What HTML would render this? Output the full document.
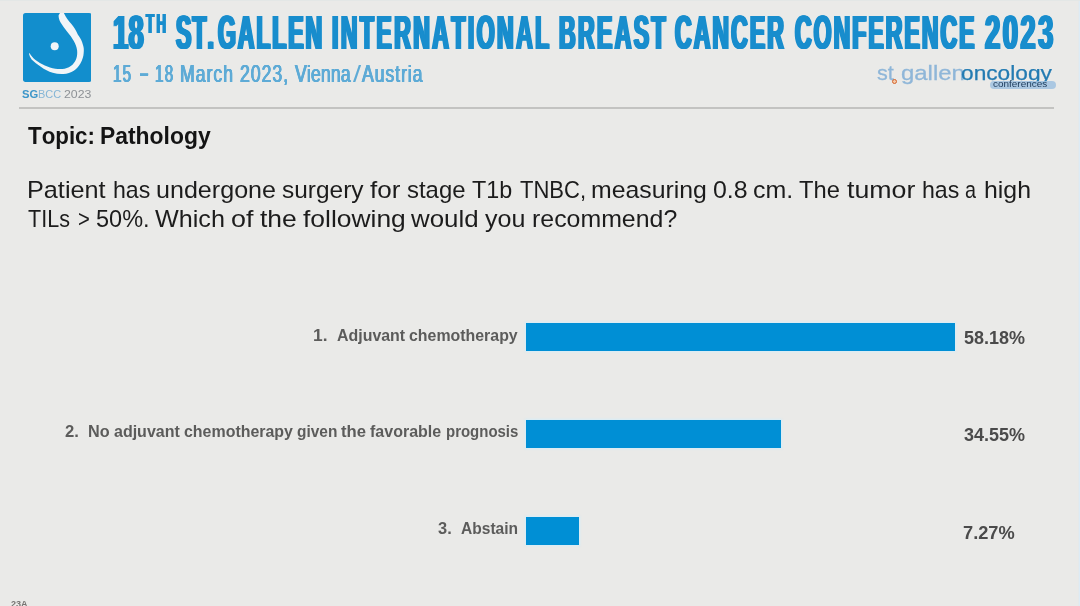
<!DOCTYPE html>
<html lang="en">
<head>
<meta charset="utf-8">
<title>18th St.Gallen International Breast Cancer Conference 2023</title>
<style>
  html,body{margin:0;padding:0;background:#eaeae8;}
  body{width:1080px;height:606px;overflow:hidden;background:#eaeae8;position:relative;
       font-family:"Liberation Sans",sans-serif;font-kerning:none;}
  #stage{position:absolute;left:0;top:0;width:1080px;height:606px;overflow:hidden;filter:blur(0.7px);}
  h1,h2,p{margin:0;font-size:inherit;font-weight:inherit;}
  .t{position:absolute;white-space:nowrap;transform-origin:0 0;line-height:1;display:block;}
  .ti{font-weight:bold;color:#188dcd;}
  .su{color:#5eabd6;}
  .sg1{font-weight:bold;color:#3c96c9;}
  .sg2{color:#86b6d6;}
  .sg3{color:#8e9296;}
  .tp{font-weight:bold;color:#141414;}
  .pa{color:#1c1c1c;}
  .lb{font-weight:bold;color:#5c5c5b;}
  .pc{font-weight:bold;color:#4b4b4b;}
  .o1{color:#8fb6d8;}
  .o2{color:#237bb2;}
  .o3{color:#1c3a5a;}
  .bar{position:absolute;left:525.6px;height:28.4px;background:#008fd5;box-shadow:0 0 2px 1px rgba(205,238,252,.75);}
  #logo{position:absolute;left:22.6px;top:13px;width:68.8px;height:68.9px;}
  #rule{position:absolute;left:18.5px;top:106.9px;width:1035.3px;height:2.1px;background:#c3c3c1;}
  #pill{position:absolute;left:989.6px;top:81px;width:66.2px;height:7.8px;border-radius:4px;background:rgba(160,194,224,.85);}
  #ring{position:absolute;left:891.6px;top:78.8px;width:3.2px;height:3.2px;border:1.4px solid #d4622a;border-radius:50%;background:#f3c9a8;}
  #edgeR{position:absolute;left:1078px;top:0;width:2px;height:606px;background:linear-gradient(90deg,#e5e9ea 0,#e5e9ea 40%,#ddebf5 40%);}
  #edgeT{position:absolute;left:0;top:0;width:1080px;height:1px;background:#e3e7e6;}
  .n23{font-weight:bold;color:#777573;}
</style>
</head>
<body>
<div id="stage">
<svg id="logo" viewBox="0 0 68.8 68.9">
  <rect x="0" y="0" width="68.8" height="68.9" rx="2.6" fill="#128ecd"/>
  <path d="M37 0 L40.9 0 C43 5 45.5 7.5 48.2 10.8 C51 14 53 17.5 54.8 21.4 C57.5 25 59.3 28.5 60 32 C60.9 34.5 61 37 60.7 39.9 C60.5 43.5 59.3 47 57.4 50.4 C55.8 53.3 53.6 55.8 50.8 57.7 C47.8 59.6 44.3 60.7 40.3 61 C36.7 61.2 33.2 60.8 29.7 59.7 C25.5 58.4 21.5 56.4 17.8 53.7 C14.3 51.3 11.3 49 8.6 46.5 C7.2 44.6 6.3 42.6 5.9 40.5 L6.6 40.3 C8 42.8 10 45 12.5 47.1 C15.3 49.2 18.4 51 21.8 52.4 C25.2 54 28.7 55.1 32.3 55.7 C35.5 56.2 38.6 56.2 41.6 55.7 C44.7 55 47.3 53.6 49.5 51.7 C51.5 49.8 52.8 47.6 53.5 45.1 C54.2 42.6 54.4 40 54.1 37.2 C53.6 34 52.5 31 50.8 28 C49 24.8 46.8 21.7 44.2 18.7 C41.6 15.6 39.4 12.6 37.6 9.5 C36.2 7 35.5 4.6 35.6 2.2 Z" fill="#f1f5f8"/>
  <circle cx="31.7" cy="33.3" r="4" fill="#f1f5f8"/>
</svg>
<h1 id="title">
<span class="t ti" style="left:113.37px;top:7.83px;font-size:48.98px;transform:scaleX(0.5600);text-shadow:2.14px 0 0 currentColor,-2.14px 0 0 currentColor,1.07px 0 0 currentColor,-1.07px 0 0 currentColor;letter-spacing:0.47px;">18</span><span class="t ti" style="left:146.45px;top:10.56px;font-size:26.74px;transform:scaleX(0.5000);text-shadow:1.40px 0 0 currentColor,-1.40px 0 0 currentColor,0.70px 0 0 currentColor,-0.70px 0 0 currentColor;letter-spacing:4.45px;">TH</span>
<span class="t ti" style="left:175.84px;top:7.83px;font-size:48.98px;transform:scaleX(0.4700);text-shadow:2.55px 0 0 currentColor,-2.55px 0 0 currentColor,1.28px 0 0 currentColor,-1.28px 0 0 currentColor;letter-spacing:2.27px;">ST.</span><span class="t ti" style="left:218.06px;top:7.83px;font-size:48.98px;transform:scaleX(0.4700);text-shadow:2.55px 0 0 currentColor,-2.55px 0 0 currentColor,1.28px 0 0 currentColor,-1.28px 0 0 currentColor;letter-spacing:4.07px;">GALLEN</span>
<span class="t ti" style="left:332.26px;top:7.83px;font-size:48.98px;transform:scaleX(0.4700);text-shadow:2.55px 0 0 currentColor,-2.55px 0 0 currentColor,1.28px 0 0 currentColor,-1.28px 0 0 currentColor;letter-spacing:5.19px;">INTERNATIONAL</span>
<span class="t ti" style="left:559.16px;top:7.83px;font-size:48.98px;transform:scaleX(0.4700);text-shadow:2.55px 0 0 currentColor,-2.55px 0 0 currentColor,1.28px 0 0 currentColor,-1.28px 0 0 currentColor;letter-spacing:5.08px;">BREAST</span>
<span class="t ti" style="left:675.36px;top:7.83px;font-size:48.98px;transform:scaleX(0.4700);text-shadow:2.55px 0 0 currentColor,-2.55px 0 0 currentColor,1.28px 0 0 currentColor,-1.28px 0 0 currentColor;letter-spacing:4.44px;">CANCER</span>
<span class="t ti" style="left:794.86px;top:7.83px;font-size:48.98px;transform:scaleX(0.4700);text-shadow:2.55px 0 0 currentColor,-2.55px 0 0 currentColor,1.28px 0 0 currentColor,-1.28px 0 0 currentColor;letter-spacing:4.35px;">CONFERENCE</span>
<span class="t ti" style="left:985.15px;top:7.83px;font-size:48.98px;transform:scaleX(0.5600);text-shadow:2.14px 0 0 currentColor,-2.14px 0 0 currentColor,1.07px 0 0 currentColor,-1.07px 0 0 currentColor;letter-spacing:4.36px;">2023</span>
</h1>
<div id="sub">
<span class="t su" style="left:113.41px;top:62.61px;font-size:23.26px;transform:scaleX(0.6600);text-shadow:0.58px 0 0 currentColor,-0.58px 0 0 currentColor,0.29px 0 0 currentColor,-0.29px 0 0 currentColor;letter-spacing:1.49px;">15</span>
<span class="t su" style="left:140.40px;top:61.11px;font-size:23.26px;transform:scaleX(0.6268);text-shadow:0 0.5px 0 currentColor,0 -0.3px 0 currentColor;">–</span>
<span class="t su" style="left:154.81px;top:62.61px;font-size:23.26px;transform:scaleX(0.6600);text-shadow:0.58px 0 0 currentColor,-0.58px 0 0 currentColor,0.29px 0 0 currentColor,-0.29px 0 0 currentColor;letter-spacing:1.82px;">18</span>
<span class="t su" style="left:180.13px;top:62.61px;font-size:23.26px;transform:scaleX(0.7600);text-shadow:0.50px 0 0 currentColor,-0.50px 0 0 currentColor,0.25px 0 0 currentColor,-0.25px 0 0 currentColor;letter-spacing:1.29px;">March</span>
<span class="t su" style="left:240.29px;top:62.61px;font-size:23.26px;transform:scaleX(0.7600);text-shadow:0.50px 0 0 currentColor,-0.50px 0 0 currentColor,0.25px 0 0 currentColor,-0.25px 0 0 currentColor;letter-spacing:1.28px;">2023,</span>
<span class="t su" style="left:294.60px;top:62.61px;font-size:23.26px;transform:scaleX(0.7600);text-shadow:0.50px 0 0 currentColor,-0.50px 0 0 currentColor,0.25px 0 0 currentColor,-0.25px 0 0 currentColor;letter-spacing:0.15px;">Vienna</span><span class="t su" style="left:353.20px;top:62.61px;font-size:23.26px;transform:scaleX(1.2536);">/</span><span class="t su" style="left:362.25px;top:62.61px;font-size:23.26px;transform:scaleX(0.7600);text-shadow:0.50px 0 0 currentColor,-0.50px 0 0 currentColor,0.25px 0 0 currentColor,-0.25px 0 0 currentColor;letter-spacing:1.20px;">Austria</span>
</div>
<div id="sgbcc">
<span class="t sg1" style="left:22.38px;top:89.18px;font-size:11.48px;transform:scaleX(0.9777);">SG</span><span class="t sg2" style="left:38.00px;top:89.18px;font-size:11.48px;transform:scaleX(0.9578);">BCC</span>
<span class="t sg3" style="left:64.38px;top:89.18px;font-size:11.48px;transform:scaleX(1.0710);">2023</span>
</div>
<h2 id="topic">
<span class="t tp" style="left:28.05px;top:124.02px;font-size:23.84px;transform:scaleX(0.9363);">Topic:</span>
<span class="t tp" style="left:100.46px;top:124.02px;font-size:23.84px;transform:scaleX(0.9605);">Pathology</span>
</h2>
<p id="para">
<span class="t pa" style="left:27.43px;top:178.02px;font-size:23.84px;transform:scaleX(1.0591);">Patient</span>
<span class="t pa" style="left:112.70px;top:178.02px;font-size:23.84px;transform:scaleX(0.9708);">has</span>
<span class="t pa" style="left:156.20px;top:178.02px;font-size:23.84px;transform:scaleX(1.0530);">undergone</span>
<span class="t pa" style="left:282.44px;top:178.02px;font-size:23.84px;transform:scaleX(1.0256);">surgery</span>
<span class="t pa" style="left:369.83px;top:178.02px;font-size:23.84px;transform:scaleX(1.0929);">for</span>
<span class="t pa" style="left:407.13px;top:178.02px;font-size:23.84px;transform:scaleX(1.0037);">stage</span>
<span class="t pa" style="left:472.08px;top:178.02px;font-size:23.84px;transform:scaleX(0.9788);">T1b</span>
<span class="t pa" style="left:519.71px;top:178.02px;font-size:23.84px;transform:scaleX(0.9240);">TNBC,</span>
<span class="t pa" style="left:590.95px;top:178.02px;font-size:23.84px;transform:scaleX(1.0418);">measuring</span>
<span class="t pa" style="left:712.63px;top:178.02px;font-size:23.84px;transform:scaleX(1.0459);">0.8</span>
<span class="t pa" style="left:753.34px;top:178.02px;font-size:23.84px;transform:scaleX(1.0480);">cm.</span>
<span class="t pa" style="left:798.97px;top:178.02px;font-size:23.84px;transform:scaleX(0.9954);">The</span>
<span class="t pa" style="left:846.50px;top:178.02px;font-size:23.84px;transform:scaleX(1.1217);">tumor</span>
<span class="t pa" style="left:921.58px;top:178.02px;font-size:23.84px;transform:scaleX(0.9708);">has</span>
<span class="t pa" style="left:965.33px;top:178.02px;font-size:23.84px;transform:scaleX(0.8298);">a</span>
<span class="t pa" style="left:984.25px;top:178.02px;font-size:23.84px;transform:scaleX(1.0444);">high</span>
<span class="t pa" style="left:28.02px;top:207.02px;font-size:23.84px;transform:scaleX(0.9046);">TILs</span>
<span class="t pa" style="left:77.58px;top:207.02px;font-size:23.84px;transform:scaleX(0.8498);">&gt;</span>
<span class="t pa" style="left:96.04px;top:207.02px;font-size:23.84px;transform:scaleX(0.9863);">50%.</span>
<span class="t pa" style="left:155.43px;top:207.02px;font-size:23.84px;transform:scaleX(1.0568);">Which</span>
<span class="t pa" style="left:231.40px;top:207.02px;font-size:23.84px;transform:scaleX(1.1272);">of</span>
<span class="t pa" style="left:260.19px;top:207.02px;font-size:23.84px;transform:scaleX(1.1118);">the</span>
<span class="t pa" style="left:302.88px;top:207.02px;font-size:23.84px;transform:scaleX(1.1089);">following</span>
<span class="t pa" style="left:410.93px;top:207.02px;font-size:23.84px;transform:scaleX(1.0855);">would</span>
<span class="t pa" style="left:484.96px;top:207.02px;font-size:23.84px;transform:scaleX(1.0513);">you</span>
<span class="t pa" style="left:531.73px;top:207.02px;font-size:23.84px;transform:scaleX(1.0444);">recommend?</span>
</p>
<div class="row">
<span class="t lb" style="left:312.71px;top:327.14px;font-size:16.13px;transform:scaleX(1.0770);">1.</span>
<span class="t lb" style="left:336.60px;top:327.14px;font-size:16.13px;transform:scaleX(0.9887);">Adjuvant</span>
<span class="t lb" style="left:408.83px;top:327.14px;font-size:16.13px;transform:scaleX(0.9871);">chemotherapy</span>
</div>
<div class="row">
<span class="t lb" style="left:65.02px;top:423.34px;font-size:16.13px;transform:scaleX(1.0352);">2.</span>
<span class="t lb" style="left:88.21px;top:423.34px;font-size:16.13px;transform:scaleX(1.0061);">No</span>
<span class="t lb" style="left:114.00px;top:423.34px;font-size:16.13px;transform:scaleX(0.9929);">adjuvant</span>
<span class="t lb" style="left:183.87px;top:423.34px;font-size:16.13px;transform:scaleX(0.9897);">chemotherapy</span>
<span class="t lb" style="left:296.87px;top:423.34px;font-size:16.13px;transform:scaleX(0.9596);">given</span>
<span class="t lb" style="left:341.32px;top:423.34px;font-size:16.13px;transform:scaleX(1.0341);">the</span>
<span class="t lb" style="left:370.29px;top:423.34px;font-size:16.13px;transform:scaleX(0.9940);">favorable</span>
<span class="t lb" style="left:445.76px;top:423.34px;font-size:16.13px;transform:scaleX(0.9292);">prognosis</span>
</div>
<div class="row">
<span class="t lb" style="left:437.92px;top:519.74px;font-size:16.13px;transform:scaleX(1.0189);">3.</span>
<span class="t lb" style="left:461.31px;top:519.74px;font-size:16.13px;transform:scaleX(0.9661);">Abstain</span>
</div>
<span class="t pc" style="left:963.85px;top:330.06px;font-size:17.88px;transform:scaleX(1.0082);">58.18%</span>
<span class="t pc" style="left:963.79px;top:427.46px;font-size:17.88px;transform:scaleX(1.0075);">34.55%</span>
<span class="t pc" style="left:963.12px;top:525.06px;font-size:17.88px;transform:scaleX(1.0212);">7.27%</span>
<div id="rule"></div>
<span class="t o1" style="left:876.80px;top:63.16px;font-size:20.83px;transform:scaleX(1.0341);-webkit-text-stroke:0.3px currentColor;">st</span>
<span class="t o1" style="left:901.00px;top:63.16px;font-size:20.83px;transform:scaleX(1.1485);-webkit-text-stroke:0.3px currentColor;">gallen</span>
<span class="t o2" style="left:961.35px;top:62.96px;font-size:20.83px;transform:scaleX(1.0900);-webkit-text-stroke:0.25px currentColor;">oncology</span>
<div id="pill"></div>
<span class="t o3" style="left:993.21px;top:79.30px;font-size:9.80px;transform:scaleX(1.0149);">conferences</span>
<span class="t n23" style="left:10.79px;top:600.33px;font-size:8.70px;transform:scaleX(1.0435);">23A</span>
<div id="ring"></div>
<div class="bar" style="top:322.5px;width:429.8px"></div>
<div class="bar" style="top:419.7px;width:255.5px"></div>
<div class="bar" style="top:517.1px;width:53.6px"></div>
<div id="edgeR"></div>
<div id="edgeT"></div>
</div>
</body>
</html>
